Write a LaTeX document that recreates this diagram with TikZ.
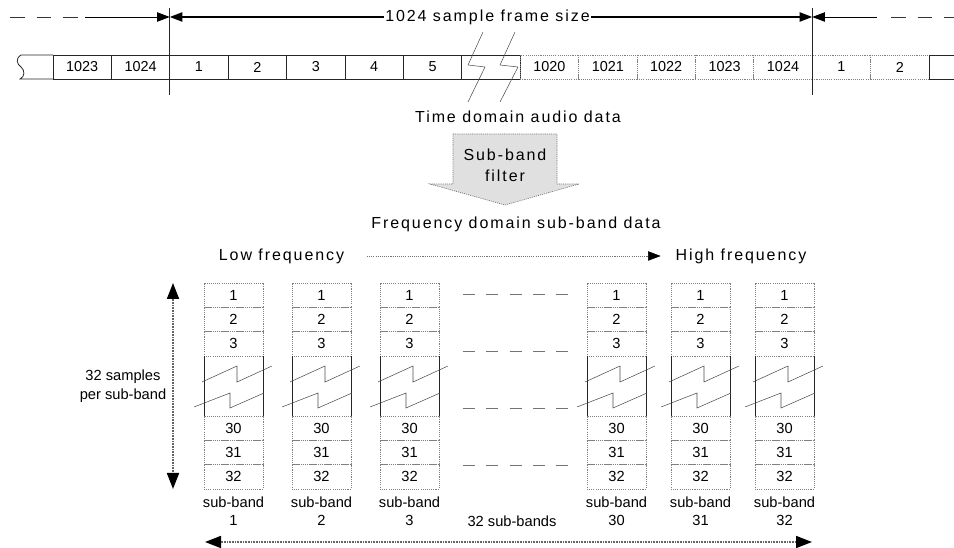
\documentclass[tikz,border=0pt]{standalone}
\usepackage{fontspec}
\setmainfont{Liberation Sans}
\newfontfamily\widefont[LetterSpace=12]{Liberation Sans}
\usetikzlibrary{arrows.meta,calc}
\begin{document}
\begin{tikzpicture}[x=0.75pt,y=-0.75pt,
  solidline/.style={line width=0.6pt, draw=black!85},
  dotline/.style={line width=0.5pt, draw=black!50, dash pattern=on 0.8pt off 0.8pt},
  tcell/.style={minimum width=43.8pt, minimum height=18pt, inner sep=0pt, outer sep=0pt, font=\fontsize{10.8}{12}\selectfont},
  tsolid/.style={tcell, draw=black!85, line width=0.6pt},
  tdot/.style={tcell, dotline},
  scell/.style={minimum width=44.25pt, minimum height=18.25pt, inner sep=0pt, outer sep=0pt, dotline, font=\fontsize{11}{12}\selectfont},
  bigtext/.style={inner sep=0pt, font=\widefont\fontsize{12}{14}\selectfont},
  smalltext/.style={inner sep=0pt, align=center, font=\fontsize{11}{13.5}\selectfont},
  zig/.style={line width=0.4pt, draw=black!70},
  breakside/.style={line width=0.6pt, draw=black!85},
  tip/.style={-{Triangle[length=9.5pt,width=7pt,color=black]}},
  mainarrow/.style={tip, line width=1.2pt, draw=black},
  thinarrow/.style={tip, line width=0.7pt, draw=black},
  dashline/.style={line width=0.7pt, draw=black!80, dash pattern=on 11pt off 9pt},
  filterbox/.style={fill=black!12, draw=black!55, line width=0.5pt, dash pattern=on 0.8pt off 0.8pt},
  dotarrow/.style={-{Triangle[length=9.5pt,width=7pt,color=black]}, line width=0.5pt, draw=black!55, dash pattern=on 0.8pt off 0.8pt},
  bigdot/.style={{Triangle[length=12pt,width=9pt,color=black]}-{Triangle[length=12pt,width=9pt,color=black]}, line width=1.3pt, draw=black!60, dash pattern=on 0.7pt off 0.5pt},
  hdash/.style={line width=0.5pt, draw=black!55, dash pattern=on 9pt off 8.5pt}
]
\useasboundingbox (0,0) rectangle (954,548);

% ---- top strip ----
\foreach \lab [count=\i from 0] in {1023,1024,1,2,3,4,5}
  \node[tsolid] (t\i) at ({53+58.4*\i+29.2},67) {\lab};
\node[tsolid] (tbreak) at ({53+58.4*7+29.2},67) {};
\foreach \lab [count=\i from 8] in {1020,1021,1022,1023,1024,1,2}
  \node[tdot] (t\i) at ({53+58.4*\i+29.2},67) {\lab};

% left partial cell with wavy edge
\draw[solidline] (t0.north west) -- (21,55) .. controls (15,59) and (17,64) .. (21,67) .. controls (25,70) and (25,77) .. (20,79) -- (t0.south west);
% right partial cell
\draw[solidline] (954,55) -- (t14.north east) -- (t14.south east) -- (954,79);

% break symbol in strip
\draw[zig] (483,32) -- (468,65) -- (485,67) -- (468,102);
\draw[zig] (515,32) -- (500,65) -- (518,67) -- (500,102);

% frame dividers
\draw[solidline] ($(t2.north west)+(0,-47)$) -- ($(t2.south west)+(0,16)$);
\draw[solidline] ($(t13.north west)+(0,-47)$) -- ($(t13.south west)+(0,16)$);

% frame arrows
\node[bigtext, inner xsep=1pt] (frame) at (487.5,17) {1024 sample frame size};
\coordinate (lmark) at (t2.north west |- frame.center);
\coordinate (rmark) at (t13.north west |- frame.center);
\coordinate (lstart) at (85,17);
\coordinate (rstart) at (877,17);
\draw[mainarrow] (frame.west) -- (lmark);
\draw[mainarrow] (frame.east) -- (rmark);
\draw[thinarrow] (lstart) -- (lmark);
\draw[thinarrow] (rstart) -- (rmark);
\draw[dashline] (10,17) -- (79,17);
\draw[dashline] (891,17) -- (954,17);

% ---- filter ----
\node[bigtext] (time) at (518,117) {Time domain audio data};
\draw[filterbox] (453,134) -- (557,134) -- (557,184) -- (579,184) -- (505,205) -- (430,184) -- (453,184) -- cycle;
\node[bigtext, align=center, font=\widefont\fontsize{12}{15.75}\selectfont] (filter) at (505,165) {Sub-band\\filter};
\node[bigtext] (freq) at (516,224) {Frequency domain sub-band data};

\node[bigtext] (low) at (281.5,256) {Low frequency};
\node[bigtext] (high) at (741,256) {High frequency};
\draw[dotarrow, shorten <=17pt, shorten >=11pt] (low.east) -- (high.west);

% ---- sub-band columns ----
\foreach \x/\n in {204/1,292/2,380/3,587/30,671/31,755/32} {
  \foreach \lab/\y in {1/295.2,2/319.5,3/343.8,30/428.2,31/452.5,32/476.8}
    \node[scell] (b\n-\lab) at ({\x+29.5},\y) {\lab};
  \draw[breakside] (b\n-3.south west) -- (b\n-30.north west);
  \draw[breakside] (b\n-3.south east) -- (b\n-30.north east);
  \begin{scope}[shift={(\x,356)}]
    \draw[zig] (-2,26) -- (33,10) -- (33,26) -- (68,10);
    \draw[zig] (-10,51) -- (26,37) -- (26,52) -- (60,37);
  \end{scope}
  \node[smalltext] (lab\n) at ({\x+29.5},511) {sub-band\\\n};
}

% dashed continuation lines
\foreach \y in {294,351,408,465}
  \draw[hdash] (463,\y) -- (570,\y);

% 32 samples arrow
\coordinate (vtop) at (173,283);
\coordinate (vbot) at (173,489);
\draw[bigdot] (vtop) -- (vbot);
\node[smalltext, font=\fontsize{11}{14.25}\selectfont] (spp) at (123,386) {32 samples\\per sub-band};

% 32 sub-bands arrow
\coordinate (hleft) at (205,542);
\coordinate (hright) at (812,542);
\draw[bigdot] (hleft) -- (hright);
\node[smalltext] (nsb) at (512,521) {32 sub-bands};
\end{tikzpicture}
\end{document}
